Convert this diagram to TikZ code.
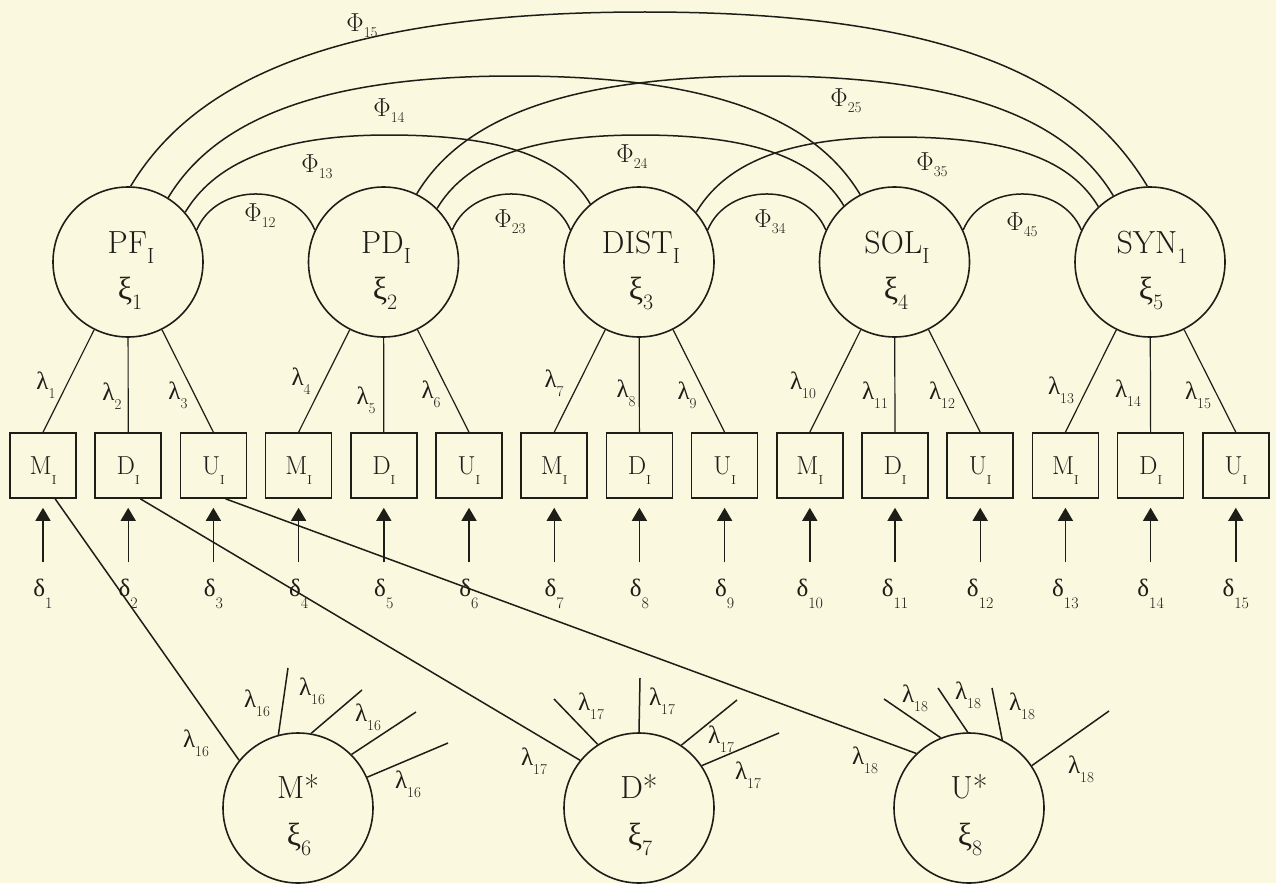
\RequirePackage{fix-cm}
\documentclass[tikz,border=0pt]{standalone}
\usepackage[no-math]{fontspec}
\newfontfamily\gr{Liberation Serif}
\usetikzlibrary{arrows.meta,calc}
\definecolor{bg}{RGB}{250,248,222}
\definecolor{ink}{RGB}{30,30,25}
\newcommand\lsub[1]{\raisebox{-9pt}[0pt][0pt]{\fontsize{15}{15}\selectfont #1}}
\newcommand\dsub[1]{\raisebox{-12pt}[0pt][0pt]{\fontsize{16}{16}\selectfont #1}}
\newcommand\psub[1]{\raisebox{-6pt}[0pt][0pt]{\fontsize{15}{15}\selectfont #1}}
\newcommand\bsub[1]{\raisebox{-10pt}[0pt][0pt]{\fontsize{22}{22}\selectfont #1}}
\newcommand\xsub[1]{\raisebox{-10pt}[0pt][0pt]{\fontsize{13}{13}\selectfont #1}}
\newcommand\lam[1]{{\gr λ}\lsub{#1}}
\newcommand\del[1]{{\gr δ}\dsub{#1}}
\newcommand\xii[1]{{\gr ξ}\bsub{#1}}
\tikzset{
 lv/.style={circle,draw=ink,line width=1.6pt,minimum size=150pt,inner sep=0pt},
 ob/.style={rectangle,draw=ink,line width=1.6pt,minimum width=66pt,minimum height=65pt,inner sep=0pt,text=ink,font=\fontsize{26}{26}\selectfont},
 lab/.style={inner sep=0pt,font=\fontsize{25}{25}\selectfont,text=ink},
 phl/.style={inner sep=0pt,font=\fontsize{26}{26}\selectfont,text=ink},
 big/.style={inner sep=0pt,anchor=base,font=\fontsize{32}{32}\selectfont,text=ink},
 cov/.style={draw=ink,line width=1.5pt},
 ld/.style={draw=ink,line width=1.2pt},
 arr/.style={draw=ink,line width=1.4pt,-{Triangle[width=15pt,length=13pt]}},
}
\begin{document}
\begin{tikzpicture}[x=1pt,y=-1pt]
\fill[bg] (0,0) rectangle (1276,883);
\useasboundingbox (0,0) rectangle (1276,883);

% latent variables (top)
\node[lv] (PF) at (128,262) {};
\node[lv] (PD) at (383.5,262) {};
\node[lv] (DI) at (639,262) {};
\node[lv] (SO) at (894.5,262) {};
\node[lv] (SY) at (1150,262) {};
\node[big] (tPF) at (131,253) {PF\bsub{I}};
\node[big] (tPD) at (386,253) {PD\bsub{I}};
\node[big] (tDI) at (641,253) {DIST\bsub{I}};
\node[big] (tSO) at (897,253) {SOL\bsub{I}};
\node[big] (tSY) at (1152,253) {SYN\bsub{1}};
\node[big] (xPF) at (130,299) {\xii{1}};
\node[big] (xPD) at (385,299) {\xii{2}};
\node[big] (xDI) at (641,299) {\xii{3}};
\node[big] (xSO) at (896,299) {\xii{4}};
\node[big] (xSY) at (1151,299) {\xii{5}};

% latent variables (bottom)
\node[lv] (Ms) at (298,808) {};
\node[lv] (Ds) at (639,808) {};
\node[lv] (Us) at (969,808) {};
\node[big] (tMs) at (298,798) {M*};
\node[big] (tDs) at (639,798) {D*};
\node[big] (tUs) at (969,798) {U*};
\node[big] (xMs) at (299,845) {\xii{6}};
\node[big] (xDs) at (640,845) {\xii{7}};
\node[big] (xUs) at (970,845) {\xii{8}};

% covariance arcs
\draw[cov] (PF.25) .. controls +(20,-48) and +(-20,-48) .. (PD.155);
\draw[cov] (PD.25) .. controls +(20,-48) and +(-20,-48) .. (DI.155);
\draw[cov] (DI.25) .. controls +(20,-48) and +(-20,-48) .. (SO.155);
\draw[cov] (SO.25) .. controls +(20,-48) and +(-20,-48) .. (SY.155);
\coordinate (p13) at (388,135);
\coordinate (p24) at (640,135);
\coordinate (p35) at (897,137);
\draw[cov] (PF.41) .. controls +(27,-45) and +(-118,0) .. (p13) .. controls +(118,0) and +(-27,-45) .. (DI.130);
\draw[cov] (PD.45) .. controls +(27,-45) and +(-118,0) .. (p24) .. controls +(118,0) and +(-27,-45) .. (SO.132);
\draw[cov] (DI.41) .. controls +(27,-45) and +(-118,0) .. (p35) .. controls +(118,0) and +(-27,-45) .. (SY.133);
\coordinate (p14) at (514,76);
\coordinate (p25) at (765,76);
\draw[cov] (PF.58) .. controls +(45,-75) and +(-200,0) .. (p14) .. controls +(200,0) and +(-45,-75) .. (SO.117);
\draw[cov] (PD.64) .. controls +(45,-75) and +(-200,0) .. (p25) .. controls +(200,0) and +(-45,-75) .. (SY.119);
\coordinate (p15) at (645,12);
\draw[cov] (PF.88) .. controls +(60,-100) and +(-320,0) .. (p15) .. controls +(320,0) and +(-60,-100) .. (SY.92);

\node[phl] (f15) at (362,23) {$\Phi$\psub{15}};
\node[phl] (f14) at (389,108) {$\Phi$\psub{14}};
\node[phl] (f13) at (317,164) {$\Phi$\psub{13}};
\node[phl] (f12) at (260,213) {$\Phi$\psub{12}};
\node[phl] (f23) at (510,219) {$\Phi$\psub{23}};
\node[phl] (f24) at (632,154) {$\Phi$\psub{24}};
\node[phl] (f34) at (770,219) {$\Phi$\psub{34}};
\node[phl] (f25) at (846,98) {$\Phi$\psub{25}};
\node[phl] (f35) at (932,162) {$\Phi$\psub{35}};
\node[phl] (f45) at (1022,222) {$\Phi$\psub{45}};

% observed variables
\foreach \i/\t/\c in {1/M/PF,2/D/PF,3/U/PF,4/M/PD,5/D/PD,6/U/PD,7/M/DI,8/D/DI,9/U/DI,10/M/SO,11/D/SO,12/U/SO,13/M/SY,14/D/SY,15/U/SY}{
  \node[ob] (b\i) at ({43+85.2*(\i-1)},465.5) {\t\xsub{I}};
  \draw[ld] (b\i.north) -- (\c);
  \coordinate (e\i) at ({43+85.2*(\i-1)},562);
  \draw[arr,shorten >=9pt] (e\i) -- (b\i.south);
  \node[lab] (d\i) at ({43+85.2*(\i-1)},588) {\del{\i}};
}

% loading labels (top)
\node[lab] (l1) at (46,381) {\lam{1}};
\node[lab] (l2) at (112,392) {\lam{2}};
\node[lab] (l3) at (178,391) {\lam{3}};
\node[lab] (l4) at (301,377) {\lam{4}};
\node[lab] (l5) at (366,396) {\lam{5}};
\node[lab] (l6) at (431,390) {\lam{6}};
\node[lab] (l7) at (554,379) {\lam{7}};
\node[lab] (l8) at (626,389) {\lam{8}};
\node[lab] (l9) at (687,391) {\lam{9}};
\node[lab] (l10) at (803,381) {\lam{10}};
\node[lab] (l11) at (875,391) {\lam{11}};
\node[lab] (l12) at (942,391) {\lam{12}};
\node[lab] (l13) at (1061,386) {\lam{13}};
\node[lab] (l14) at (1128,389) {\lam{14}};
\node[lab] (l15) at (1198,391) {\lam{15}};

% method factor loadings
\draw[cov] (b1.-70) -- (Ms.141);
\draw[cov] (b2.-70) -- (Ds.141);
\draw[cov] (b3.-70) -- (Us.134);

\coordinate (m1) at (288,668);
\coordinate (m2) at (362,690);
\coordinate (m3) at (416,712);
\coordinate (m4) at (448,743);
\draw[cov] (Ms.105.6) -- (m1);
\draw[cov] (Ms.80) -- (m2);
\draw[cov] (Ms.45.5) -- (m3);
\draw[cov] (Ms.24) -- (m4);
\coordinate (n1) at (554,699);
\coordinate (n2) at (640,678);
\coordinate (n3) at (737,700);
\coordinate (n4) at (779,733);
\draw[cov] (Ds.123) -- (n1);
\draw[cov] (Ds.90) -- (n2);
\draw[cov] (Ds.56.5) -- (n3);
\draw[cov] (Ds.34) -- (n4);
\coordinate (u1) at (884,699);
\coordinate (u2) at (938,688);
\coordinate (u3) at (992,688);
\coordinate (u4) at (1109,711);
\draw[cov] (Us.112) -- (u1);
\draw[cov] (Us.91) -- (u2);
\draw[cov] (Us.64) -- (u3);
\draw[cov] (Us.34) -- (u4);

\node[lab] (k0) at (196,739) {\lam{16}};
\node[lab] (k1) at (257,699) {\lam{16}};
\node[lab] (k2) at (312,687) {\lam{16}};
\node[lab] (k3) at (368,713) {\lam{16}};
\node[lab] (k4) at (408,780) {\lam{16}};
\node[lab] (q0) at (534,757) {\lam{17}};
\node[lab] (q1) at (591,702) {\lam{17}};
\node[lab] (q2) at (662,697) {\lam{17}};
\node[lab] (q3) at (721,735) {\lam{17}};
\node[lab] (q4) at (748,771) {\lam{17}};
\node[lab] (r0) at (865,756) {\lam{18}};
\node[lab] (r1) at (915,694) {\lam{18}};
\node[lab] (r2) at (968,691) {\lam{18}};
\node[lab] (r3) at (1022,702) {\lam{18}};
\node[lab] (r4) at (1081,765) {\lam{18}};
\end{tikzpicture}
\end{document}
